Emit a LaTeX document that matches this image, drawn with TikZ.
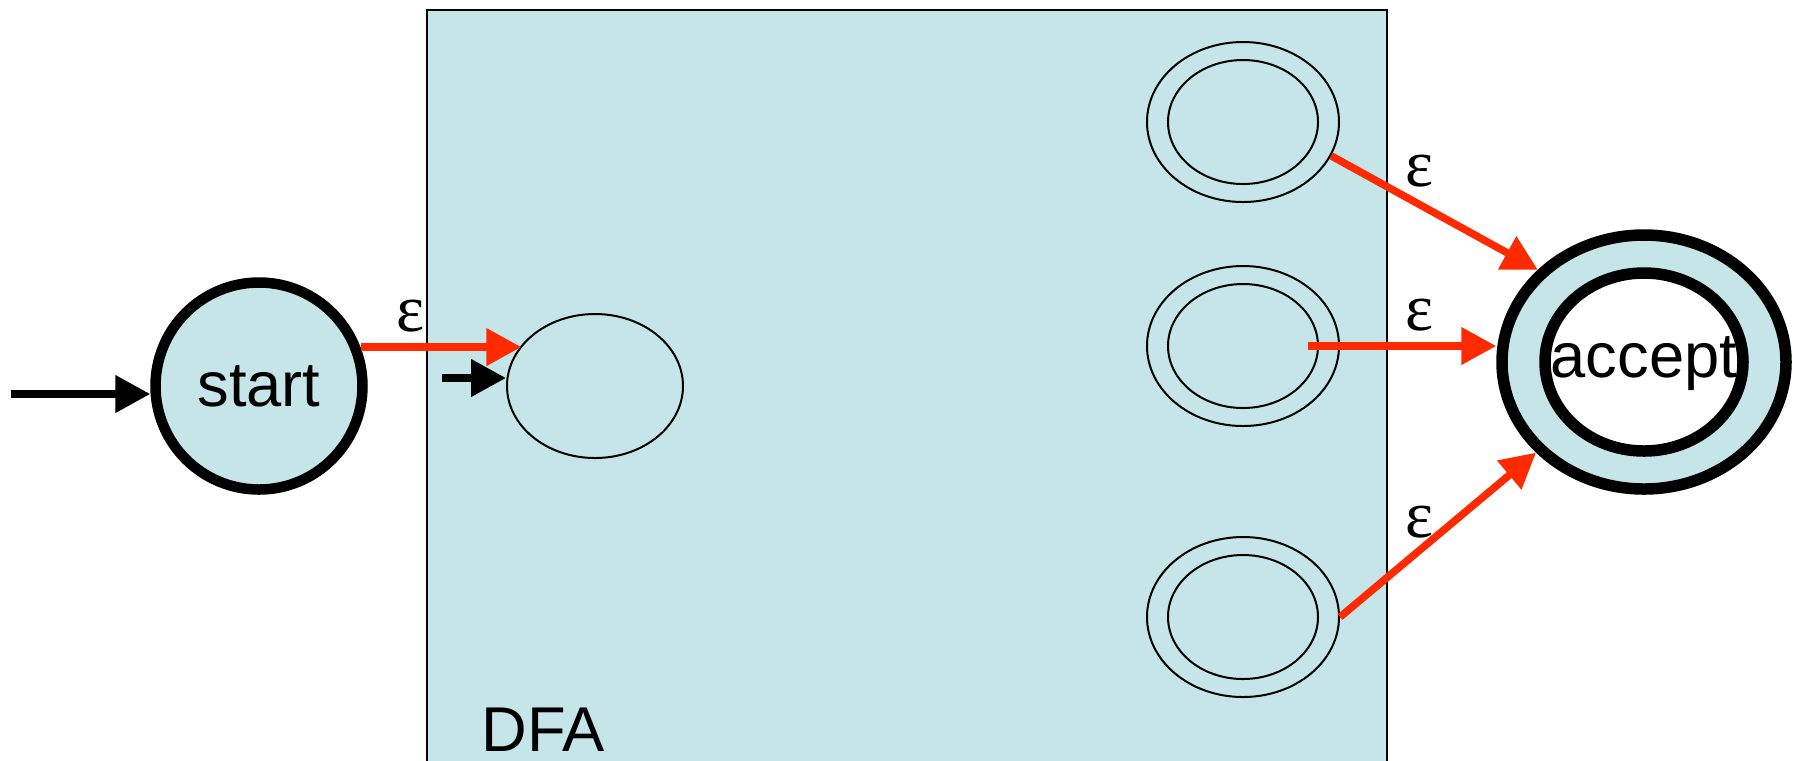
\documentclass[tikz,border=0pt]{standalone}
\usepackage{fontspec}
\setmainfont{Liberation Sans}
\newfontfamily\epsfont{Liberation Serif}
\usetikzlibrary{arrows.meta,positioning,shapes.geometric}
\definecolor{dfablue}{HTML}{C6E5E9}
\definecolor{epsred}{HTML}{FF2A00}

\begin{document}
\begin{tikzpicture}[
  x=0.1mm, y=-0.1mm,
  st/.style={draw, ellipse, line width=1.05mm, fill=dfablue, inner sep=0pt,
             font=\fontsize{18}{20}\selectfont},
  thinst/.style={draw, ellipse, line width=0.2mm, inner sep=0pt},
  arr/.style={-{Triangle[length=3.5mm, width=3.6mm]}, line width=0.75mm},
  eps/.style={arr, epsred},
  lbl/.style={font=\epsfont\fontsize{19}{20}\selectfont, inner sep=1pt}
]
\useasboundingbox (0,0) rectangle (1802,760);
\draw[fill=dfablue, line width=0.2mm] (427,10) rectangle (1387,775);
\node[font=\fontsize{18}{20}\selectfont] (dfa) at (543,730) {DFA};

\node[st, minimum width=20.7mm, minimum height=20.7mm] (start) at (259,386) {start};
\node[thinst, minimum width=17.6mm, minimum height=14.4mm] (q0) at (595,386) {};
\foreach \n/\y in {f1/122, f2/346, f3/617} {
  \node[thinst, minimum width=19.2mm, minimum height=16mm] (\n) at (1243,\y) {};
  \node[thinst, minimum width=15mm, minimum height=12.4mm] (\n-in) at (1243,\y) {};
}
\node[st, line width=1.15mm, minimum width=28.4mm, minimum height=25.4mm] (acco) at (1644,362) {};
\node[st, line width=1.15mm, fill=white, minimum width=19.8mm, minimum height=17.8mm] (acci) at (1644,362) {};
\node[font=\fontsize{18}{20}\selectfont, inner sep=0pt] (accept) at (1644,364) {accept};

\coordinate (in) at (11,394);
\coordinate (qin) at (442,378);
\coordinate (f2out) at ([xshift=-1.1mm]f2-in.east);

\draw[arr] (in) -- (in -| start.west);
\draw[arr] (qin) -- (qin -| q0.west);
\draw[eps] (start.21) -- (start.21 -| q0.151);
\draw[eps] (f1.-21) -- (acco.139);
\draw[eps] (f2out) -- (f2out -| acco.west);
\draw[eps] (f3.east) -- (acco.220);

\node[lbl] (e0) at (411,316) {ε};
\node[lbl] (e1) at (1420,171) {ε};
\node[lbl] (e2) at (1420,315) {ε};
\node[lbl] (e3) at (1420,522) {ε};
\end{tikzpicture}
\end{document}
